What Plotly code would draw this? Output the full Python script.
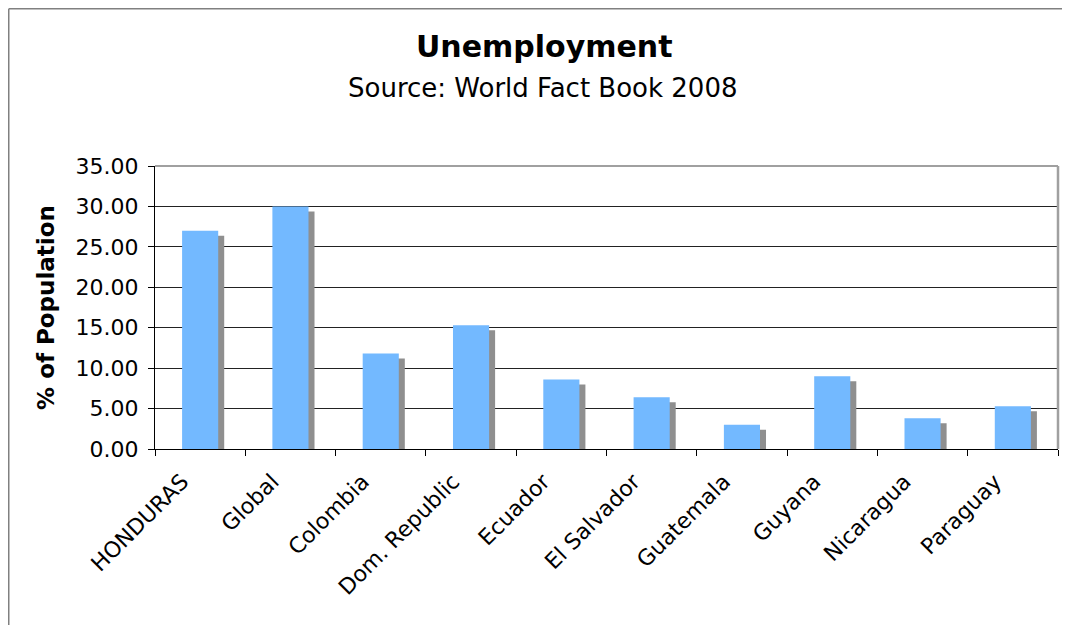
import plotly.graph_objects as go

categories = ["HONDURAS", "Global", "Colombia", "Dom. Republic", "Ecuador",
              "El Salvador", "Guatemala", "Guyana", "Nicaragua", "Paraguay"]
unemployment = [27.0, 30.0, 11.8, 15.3, 8.6, 6.4, 3.0, 9.0, 3.8, 5.3]
y_ticks = [0, 5, 10, 15, 20, 25, 30, 35]

FONT = "Verdana, DejaVu Sans, sans-serif"
BLUE = "#73B9FF"
SHADOW = "#8F8F8F"

# figure geometry (pixels); the page adds an 8px body margin
W, H = 1062, 617
L, R, T, B = 147, 12, 158, 176
pw, ph = W - L - R, H - T - B
y_max = 35.0

bar_w = 0.4
shift_x = 6 / (pw / len(categories))      # shadow right offset in category units
shift_y = 5 / (ph / y_max)                # shadow down offset in data units

fig = go.Figure()
fig.add_trace(go.Bar(
    x=categories, y=[v - shift_y for v in unemployment],
    width=bar_w, offset=-bar_w / 2 + shift_x,
    marker=dict(color=SHADOW, line=dict(width=0)),
    hoverinfo="skip", showlegend=False,
))
fig.add_trace(go.Bar(
    x=categories, y=unemployment,
    width=bar_w, offset=-bar_w / 2,
    marker=dict(color=BLUE, line=dict(width=0)),
    showlegend=False, name="Unemployment",
))

def px_x(p):
    return (p - L) / pw

def px_y(p):
    return (H - B - p) / ph

shapes = [
    # outer chart border (top and left visible)
    dict(type="line", xref="paper", yref="paper", x0=px_x(0.75), x1=px_x(1080),
         y0=px_y(0.75), y1=px_y(0.75), line=dict(color="#808080", width=1.5)),
    dict(type="line", xref="paper", yref="paper", x0=px_x(0.75), x1=px_x(0.75),
         y0=px_y(0.75), y1=px_y(640), line=dict(color="#808080", width=1.5)),
    # plot area top and right border
    dict(type="line", xref="paper", yref="paper", x0=0, x1=1, y0=1, y1=1,
         line=dict(color="#A0A0A0", width=2)),
    dict(type="line", xref="paper", yref="paper", x0=1, x1=1, y0=0, y1=1,
         line=dict(color="#A0A0A0", width=2.5)),
]

annotations = [
    dict(text="<b>Unemployment</b>", xref="paper", yref="paper",
         x=px_x(536), y=px_y(39), xanchor="center", yanchor="middle",
         showarrow=False, font=dict(family=FONT, size=30, color="black")),
    dict(text="Source: World Fact Book 2008", xref="paper", yref="paper",
         x=px_x(535), y=px_y(80), xanchor="center", yanchor="middle",
         showarrow=False, font=dict(family=FONT, size=26, color="black")),
]

fig.update_layout(
    width=W, height=H,
    margin=dict(l=L, r=R, t=T, b=B, autoexpand=False),
    barmode="overlay",
    plot_bgcolor="white", paper_bgcolor="white",
    font=dict(family=FONT, color="black"),
    shapes=shapes, annotations=annotations,
    xaxis=dict(
        type="category", tickson="boundaries", ticks="outside", ticklen=6,
        tickcolor="black", showline=True, linecolor="black", linewidth=1,
        tickangle=-45, tickfont=dict(family=FONT, size=22, color="black"),
        ticklabelshift=-18, ticklabelstandoff=10,
        showgrid=False, range=[-0.5, len(categories) - 0.5],
    ),
    yaxis=dict(
        range=[0, y_max], tickvals=y_ticks, tickformat=".2f",
        ticks="outside", ticklen=6, tickcolor="black",
        showline=True, linecolor="black", linewidth=1,
        showgrid=True, gridcolor="#222222", gridwidth=1,
        zeroline=False, ticklabelstandoff=5,
        tickfont=dict(family=FONT, size=22, color="black"),
        title=dict(text="<b>% of Population</b>", standoff=14,
                   font=dict(family=FONT, size=23, color="black")),
    ),
)

fig.write_html("out.html")
